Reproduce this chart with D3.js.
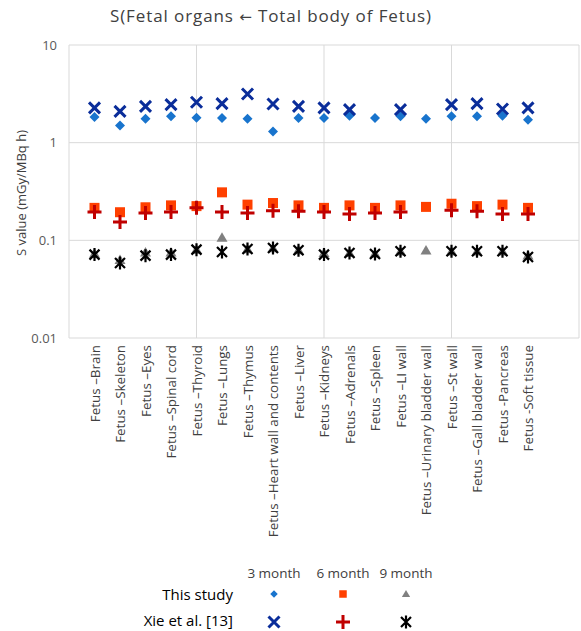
<!DOCTYPE html>
<html><head><meta charset="utf-8">
<script src="https://cdn.jsdelivr.net/npm/d3@7"></script>
<style>body{margin:0;background:#fff}svg{display:block}text{font-family:"Open Sans",sans-serif}</style>
</head><body>
<svg id="c" width="581" height="631"></svg>
<script>
const categories = ["Fetus –Brain","Fetus –Skeleton","Fetus –Eyes","Fetus –Spinal cord","Fetus –Thyroid","Fetus –Lungs","Fetus –Thymus","Fetus –Heart wall and contents","Fetus –Liver","Fetus –Kidneys","Fetus –Adrenals","Fetus –Spleen","Fetus –LI wall","Fetus –Urinary bladder wall","Fetus –St wall","Fetus –Gall bladder wall","Fetus -Pancreas","Fetus -Soft tissue"];
const thisStudy3 = [1.83,1.50,1.76,1.86,1.80,1.79,1.76,1.30,1.79,1.79,1.89,1.79,1.86,1.76,1.86,1.86,1.89,1.72];
const thisStudy6 = [0.215,0.194,0.218,0.228,0.224,0.31,0.232,0.241,0.228,0.215,0.228,0.215,0.228,0.22,0.237,0.224,0.232,0.215];
const thisStudy9 = [0.073,0.063,0.075,0.075,0.080,0.106,0.081,0.083,0.079,0.074,0.074,0.073,0.077,0.0785,0.077,0.077,0.077,0.070];
const xie3 = [2.27,2.09,2.35,2.45,2.59,2.51,3.15,2.49,2.35,2.27,2.18,null,2.18,null,2.45,2.51,2.21,2.27];
const xie6 = [0.195,0.154,0.19,0.195,0.215,0.195,0.19,0.201,0.198,0.195,0.186,0.19,0.195,null,0.203,0.198,0.186,0.186];
const xie9 = [0.0714,0.0587,0.0697,0.0714,0.0803,0.076,0.0816,0.0836,0.079,0.0714,0.0743,0.0726,0.0773,null,0.0773,0.0773,0.0773,0.0676];
const yTicks = [0.01,0.1,1,10];
const xGrid = [0,5,10,15,20];
const titleParts = ["S(Fetal organs ", "\u2190", " Total body of Fetus)"];
const yTitle = "S value (mGy/MBq h)";
const rowLabels = ["This study","Xie et al. [13]"];
const colLabels = ["3 month","6 month","9 month"];

const svg = d3.select("#c");
const x = d3.scaleLinear().domain([0,20]).range([69,579]);
const y = d3.scaleLog().domain([0.01,10]).range([338,45]);

const t = svg.append("text").attr("x",271).attr("y",22).attr("text-anchor","middle")
  .attr("font-size",17).attr("fill","#404040").attr("letter-spacing",0.9);
t.append("tspan").text(titleParts[0]);
t.append("tspan").style("font-family","'DejaVu Sans',sans-serif").attr("font-size",15).text(titleParts[1]);
t.append("tspan").text(titleParts[2]);

// grid
svg.append("g").selectAll("line").data(yTicks).join("line")
  .attr("x1",x(0)).attr("x2",x(20)).attr("y1",d=>y(d)).attr("y2",d=>y(d))
  .attr("stroke","#d9d9d9").attr("stroke-width",1);
svg.append("g").selectAll("line").data(xGrid).join("line")
  .attr("x1",d=>x(d)).attr("x2",d=>x(d)).attr("y1",y(10)).attr("y2",y(0.01))
  .attr("stroke","#d9d9d9").attr("stroke-width",1);

// y axis labels
const yAxis = d3.axisLeft(y).tickValues(yTicks).tickFormat(d=>d3.format("")(d)).tickSize(0).tickPadding(12);
const ya = svg.append("g").attr("transform",`translate(${x(0)},0)`).call(yAxis);
ya.select(".domain").remove();
ya.selectAll("text").attr("font-size",13).attr("fill","#595959").style("font-family","'Open Sans',sans-serif");

svg.append("text").attr("transform","translate(26,193) rotate(-90)").attr("text-anchor","middle")
  .attr("font-size",13).attr("fill","#404040").text(yTitle);

// x labels
const xa = d3.axisBottom(x).tickValues(d3.range(1,19)).tickFormat(d=>categories[d-1]).tickSize(0);
const xg = svg.append("g").attr("transform",`translate(0,${y(0.01)})`).call(xa);
xg.select(".domain").remove();
xg.selectAll("text").attr("transform","rotate(-90)").attr("text-anchor","end")
  .attr("x",-7).attr("y",0).attr("dy","0.35em").attr("font-size",13.4).attr("fill","#404040")
  .style("font-family","'Open Sans',sans-serif");

// marker drawers
const sym = {
  diamond: g => g.append("path").attr("d","M0,-5L5,0L0,5L-5,0Z").attr("fill","#1874cd"),
  square: g => g.append("rect").attr("x",-5).attr("y",-5).attr("width",10).attr("height",10).attr("fill","#ff4000"),
  triangle: g => g.append("path").attr("d","M0,-5.5L5.5,4L-5.5,4Z").attr("fill","#808080"),
  cross: g => g.append("path").attr("d","M-5.5,-5.5L5.5,5.5M-5.5,5.5L5.5,-5.5").attr("stroke","#0a2d9a").attr("stroke-width",3).attr("fill","none"),
  plus: g => g.append("path").attr("d","M-7,0L7,0M0,-7L0,7").attr("stroke","#c00000").attr("stroke-width",3).attr("fill","none"),
  star: g => g.append("path").attr("d","M-5,-5L5,5M-5,5L5,-5M0,-6.5L0,6.5").attr("stroke","#000").attr("stroke-width",2.2).attr("fill","none")
};
function series(vals, kind){
  const pts = vals.map((v,i)=>({v,i})).filter(d=>d.v!=null);
  svg.append("g").selectAll("g").data(pts).join("g")
    .attr("transform",d=>`translate(${x(d.i+1)},${y(d.v)})`)
    .each(function(){ sym[kind](d3.select(this)); });
}
series(thisStudy9,"triangle");
series(thisStudy6,"square");
series(thisStudy3,"diamond");
series(xie3,"cross");
series(xie6,"plus");
series(xie9,"star");

// legend
const colX = [274,343,406];
const lg = svg.append("g");
lg.selectAll("text.col").data(colLabels).join("text").attr("class","col")
  .attr("x",(d,i)=>colX[i]).attr("y",578).attr("text-anchor","middle").attr("font-size",13.5).attr("fill","#404040").text(d=>d);
lg.selectAll("text.row").data(rowLabels).join("text").attr("class","row")
  .attr("x",233).attr("y",(d,i)=>[600,626][i]).attr("text-anchor","end").attr("font-size",15).attr("fill","#000").text(d=>d);
const legKinds = [["diamond","square","triangle"],["cross","plus","star"]];
const legScale = [0.75,1];
legKinds.forEach((row,r)=>row.forEach((k,c)=>{
  const g = lg.append("g").attr("transform",`translate(${colX[c]},${[594,622][r]}) scale(${legScale[r]})`);
  sym[k](g);
}));
</script>
</body></html>
